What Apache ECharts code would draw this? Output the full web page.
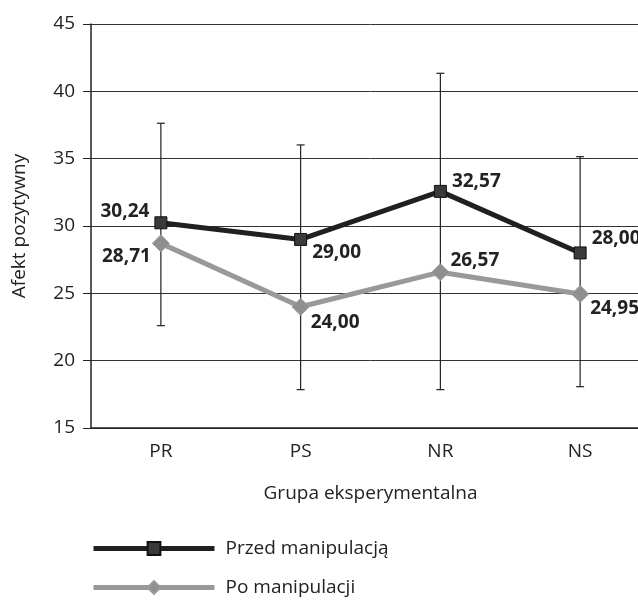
<!DOCTYPE html>
<html><head><meta charset="utf-8">
<script src="https://cdn.jsdelivr.net/npm/echarts@6/dist/echarts.min.js"></script>
<style>html,body{margin:0;padding:0;background:#fff;overflow:hidden}#c{width:660px;height:600px}</style>
</head><body><div id="c"></div>
<script>
const categories = ['PR', 'PS', 'NR', 'NS'];
const przedValues = [30.24, 29.00, 32.57, 28.00];
const poValues = [28.71, 24.00, 26.57, 24.95];
const errorLow = [22.6, 17.85, 17.85, 18.07];
const errorHigh = [37.63, 36.02, 41.34, 35.15];
const yTicks = [15, 20, 25, 30, 35, 40, 45];

const FONT = '"Open Sans", sans-serif';
const FS = 19;
const fmt = v => v.toFixed(2).replace('.', ',');

// label placement (style, not data)
const przedLabelPos = [['left', -11], ['right', 13], ['right', -10], ['right', -14]];
const poLabelPos = [['left', 13], ['right', 16], ['right', -12], ['right', 15]];

function withLabels(values, place, dist) {
  return values.map((v, i) => ({
    value: v,
    label: { position: place[i][0], offset: [0, place[i][1]], distance: dist }
  }));
}

const chart = echarts.init(document.getElementById('c'), null, { renderer: 'canvas' });
chart.setOption({
  animation: false,
  textStyle: { fontFamily: FONT },
  grid: { left: 91, width: 559, top: 24, height: 404 },
  legend: {
    orient: 'vertical', left: 91, top: 539, padding: 0,
    itemWidth: 121, itemHeight: 16, itemGap: 20,
    lineStyle: { width: 5 },
    textStyle: { fontFamily: FONT, fontSize: FS, color: '#222', padding: [0, 0, 0, 6] },
    data: ['Przed manipulacją', 'Po manipulacji']
  },
  xAxis: {
    type: 'category', data: categories,
    name: 'Grupa eksperymentalna', nameLocation: 'middle', nameGap: 56,
    nameTextStyle: { fontFamily: FONT, fontSize: FS, color: '#222' },
    axisLine: { lineStyle: { color: '#222', width: 1.5 } },
    axisTick: { show: false },
    axisLabel: { fontFamily: FONT, fontSize: FS, color: '#222', margin: 14 }
  },
  yAxis: {
    type: 'value', min: yTicks[0], max: yTicks[yTicks.length - 1], interval: 5,
    name: 'Afekt pozytywny', nameLocation: 'middle', nameGap: 62,
    nameTextStyle: { fontFamily: FONT, fontSize: FS, color: '#222' },
    axisLine: { show: true, lineStyle: { color: '#222', width: 1.5 } },
    axisTick: { show: true, length: 8, lineStyle: { color: '#222' } },
    axisLabel: { fontFamily: FONT, fontSize: FS, color: '#222', margin: 16 },
    splitLine: { lineStyle: { color: '#333', width: 1 } }
  },
  series: [
    {
      type: 'custom', name: 'err', z: 1, silent: true,
      data: categories.map((c, i) => [i, errorLow[i], errorHigh[i]]),
      renderItem: function (params, api) {
        const x = api.value(0);
        const lo = api.coord([x, api.value(1)]);
        const hi = api.coord([x, api.value(2)]);
        const cw = 4;
        const st = { stroke: '#222', lineWidth: 1.2 };
        return {
          type: 'group', children: [
            { type: 'line', shape: { x1: lo[0], y1: lo[1], x2: hi[0], y2: hi[1] }, style: st },
            { type: 'line', shape: { x1: lo[0] - cw, y1: lo[1], x2: lo[0] + cw, y2: lo[1] }, style: st },
            { type: 'line', shape: { x1: hi[0] - cw, y1: hi[1], x2: hi[0] + cw, y2: hi[1] }, style: st }
          ]
        };
      }
    },
    {
      type: 'line', name: 'Po manipulacji', z: 3,
      data: withLabels(poValues, poLabelPos, 1),
      symbol: 'diamond', symbolSize: 17,
      lineStyle: { color: '#999', width: 5 },
      itemStyle: { color: '#8f8f8f', borderColor: '#999', borderWidth: 1 },
      label: { show: true, formatter: p => fmt(p.value), fontFamily: FONT, fontSize: FS, fontWeight: 'bold', color: '#222' }
    },
    {
      type: 'line', name: 'Przed manipulacją', z: 4,
      data: withLabels(przedValues, przedLabelPos, 5),
      symbol: 'rect', symbolSize: 12,
      lineStyle: { color: '#231f20', width: 5 },
      itemStyle: { color: '#3a3a3a', borderColor: '#111', borderWidth: 1 },
      label: { show: true, formatter: p => fmt(p.value), fontFamily: FONT, fontSize: FS, fontWeight: 'bold', color: '#222' }
    }
  ]
});
</script>
</body></html>
